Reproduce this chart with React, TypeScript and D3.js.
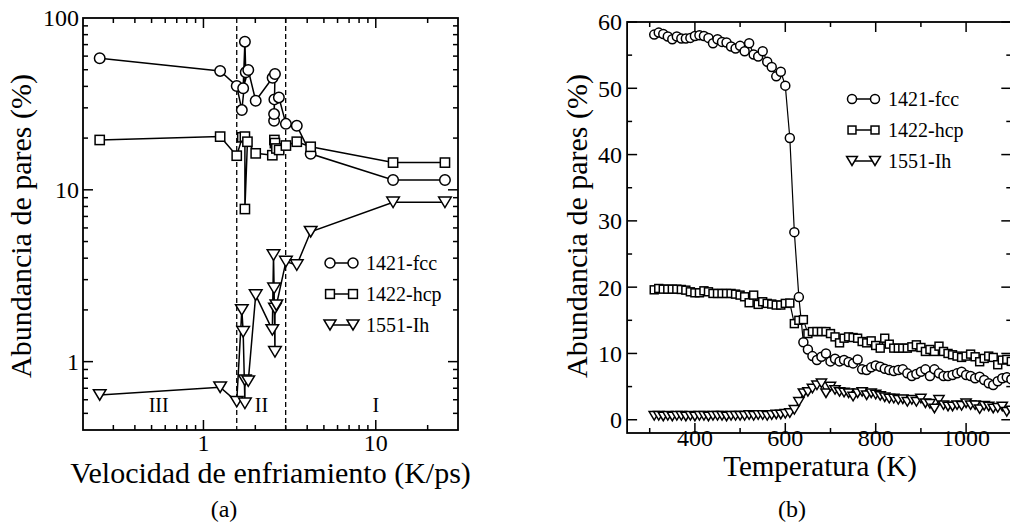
import React, { useEffect, useRef } from 'react';
import * as d3 from 'd3';

// ---------- panel (a): pair abundance vs cooling rate (log-log) ----------
const fccRate = [0.25, 1.25, 1.56, 1.67, 1.76, 1.74, 1.70, 1.82, 2.01, 2.52, 2.60, 2.57, 2.57, 2.58, 2.74, 3.01, 3.48, 4.19, 12.6, 25.2];
const fccA = [58.3, 49.2, 40.2, 29.1, 48.3, 72.8, 39.0, 49.8, 33.0, 44.9, 47.2, 25.2, 27.6, 33.6, 34.5, 24.2, 23.6, 16.2, 11.4, 11.4];

const hcpRate = [0.25, 1.25, 1.56, 1.68, 1.74, 1.74, 1.80, 2.01, 2.51, 2.58, 2.60, 2.65, 2.75, 3.01, 3.48, 4.19, 12.6, 25.2];
const hcpA = [19.5, 20.4, 15.8, 20.2, 20.4, 7.73, 19.05, 16.3, 15.9, 19.5, 18.7, 17.4, 17.05, 18.1, 19.05, 17.8, 14.4, 14.4];

const ihRate = [0.25, 1.25, 1.56, 1.67, 1.70, 1.74, 1.74, 1.82, 2.01, 2.51, 2.55, 2.57, 2.60, 2.60, 2.65, 3.01, 3.48, 4.19, 12.6, 25.2];
const ihA = [0.64, 0.71, 0.585, 2.0, 1.49, 0.572, 0.78, 0.77, 2.44, 1.53, 4.17, 2.67, 1.14, 2.04, 2.13, 3.82, 3.65, 5.70, 8.46, 8.46];

const regionLines = [1.56, 3.0];
const regionLabels = [
  { text: 'III', x: 0.55 },
  { text: 'II', x: 2.17 },
  { text: 'I', x: 10 },
];

// ---------- panel (b): pair abundance vs temperature ----------
const temps = [
  310, 320, 330, 340, 350, 360, 370, 380, 390, 400,
  410, 420, 430, 440, 450, 460, 470, 480, 490, 500,
  510, 520, 530, 540, 550, 560, 570, 580, 590, 600,
  610, 620, 630, 640, 650, 660, 670, 680, 690, 700,
  710, 720, 730, 740, 750, 760, 770, 780, 790, 800,
  810, 820, 830, 840, 850, 860, 870, 880, 890, 900,
  910, 920, 930, 940, 950, 960, 970, 980, 990, 1000,
  1010, 1020, 1030, 1040, 1050, 1060, 1070, 1080, 1090, 1100,
];

const fccT = [
  58.1, 58.4, 58.2, 57.8, 57.4, 57.8, 57.5, 57.5, 57.6, 57.9,
  58.0, 57.9, 57.6, 56.8, 57.4, 57.0, 56.9, 56.3, 56.0, 56.4,
  55.6, 56.8, 55.1, 54.8, 55.6, 54.0, 53.2, 51.8, 52.5, 50.4,
  42.5, 28.3, 18.5, 11.7, 10.6, 9.6, 9.0, 9.5, 10.0, 8.8,
  9.2, 8.8, 9.0, 8.7, 8.5, 9.1, 7.6, 7.5, 7.9, 8.2,
  8.0, 7.7, 7.5, 7.35, 7.5, 7.6, 7.0, 6.6, 6.9, 7.25,
  7.6, 6.6, 7.6, 7.0, 6.6, 6.6, 6.75, 7.0, 7.25, 6.75,
  6.6, 6.25, 6.5, 6.0, 5.5, 5.25, 5.8, 6.25, 6.4, 6.1,
];

const hcpT = [
  19.6, 19.8, 19.7, 19.7, 19.7, 19.7, 19.65, 19.55, 19.3, 19.15,
  19.15, 19.45, 19.3, 19.05, 19.05, 19.05, 19.05, 19.05, 18.95, 18.8,
  18.55, 17.65, 18.8, 17.4, 17.8, 17.55, 17.45, 17.3, 17.3, 17.55,
  17.6, 14.5, 15.0, 15.1, 13.0, 13.3, 13.3, 13.3, 13.3, 13.0,
  12.5, 11.6, 12.3, 12.5, 12.4, 12.3, 11.8, 11.6, 11.9, 11.2,
  10.8, 12.3, 11.4, 10.8, 10.8, 10.8, 10.8, 11.0, 11.3, 10.9,
  10.3, 10.6, 10.3, 11.1, 10.3, 10.0, 9.8, 9.6, 9.4, 9.6,
  9.9, 9.5, 8.75, 9.25, 9.6, 9.4, 8.3, 9.0, 9.1, 8.8,
];

const ihT = [
  0.6, 0.6, 0.5, 0.6, 0.5, 0.6, 0.6, 0.5, 0.6, 0.5,
  0.6, 0.6, 0.5, 0.6, 0.6, 0.6, 0.5, 0.6, 0.6, 0.6,
  0.6, 0.7, 0.6, 0.7, 0.7, 0.6, 0.7, 0.8, 0.8, 0.9,
  1.0, 1.5, 2.7, 4.0, 4.2, 4.7, 5.2, 5.5, 4.0, 5.0,
  4.5, 4.2, 4.1, 4.0, 3.5, 4.0, 4.2, 3.7, 4.0, 3.8,
  3.6, 3.4, 3.2, 3.2, 3.0, 3.1, 2.7, 3.0, 2.7, 3.2,
  2.5, 2.4, 1.7, 3.0, 2.2, 2.0, 2.0, 2.2, 2.1, 2.5,
  2.2, 2.2, 1.6, 2.1, 2.0, 1.7, 1.8, 2.0, 1.2, 1.4,
];

const legendNames = ['1421-fcc', '1422-hcp', '1551-Ih'];
const shapes = ['circle', 'square', 'triangle'];

const FONT = "'Liberation Serif', 'DejaVu Serif', serif";

const drawMarker = (g, shape, cx, cy, s) => {
  if (shape === 'circle') {
    g.append('circle').attr('cx', cx).attr('cy', cy).attr('r', s / 2)
      .attr('fill', 'white').attr('stroke', 'black').attr('stroke-width', 1.5);
  } else if (shape === 'square') {
    const h = s * 0.88;
    g.append('rect').attr('x', cx - h / 2).attr('y', cy - h / 2).attr('width', h).attr('height', h)
      .attr('fill', 'white').attr('stroke', 'black').attr('stroke-width', 1.5);
  } else {
    const w = s * 1.2, h = s;
    g.append('path')
      .attr('d', `M${cx - w / 2},${cy - h / 2}L${cx + w / 2},${cy - h / 2}L${cx},${cy + h / 2}Z`)
      .attr('fill', 'white').attr('stroke', 'black').attr('stroke-width', 1.5)
      .attr('stroke-linejoin', 'miter');
  }
};

const drawTicks = (g, sx, sy, xMajor, xMinor, yMajor, yMinor, [x0, x1], [y0, y1]) => {
  const t = g.append('g').attr('stroke', 'black').attr('stroke-width', 1.5);
  const xt = (v, len) => {
    const x = sx(v);
    t.append('line').attr('x1', x).attr('x2', x).attr('y1', y1).attr('y2', y1 - len);
    t.append('line').attr('x1', x).attr('x2', x).attr('y1', y0).attr('y2', y0 + len);
  };
  const yt = (v, len) => {
    const y = sy(v);
    t.append('line').attr('x1', x0).attr('x2', x0 + len).attr('y1', y).attr('y2', y);
    t.append('line').attr('x1', x1).attr('x2', x1 - len).attr('y1', y).attr('y2', y);
  };
  xMajor.forEach(v => xt(v, 10));
  xMinor.forEach(v => xt(v, 5));
  yMajor.forEach(v => yt(v, 10));
  yMinor.forEach(v => yt(v, 5));
};

const drawLegend = (g, x, y0, dy, size) => {
  legendNames.forEach((name, i) => {
    const y = y0 + i * dy;
    g.append('line').attr('x1', x).attr('x2', x + 23).attr('y1', y).attr('y2', y)
      .attr('stroke', 'black').attr('stroke-width', 1.5);
    drawMarker(g, shapes[i], x, y, size);
    drawMarker(g, shapes[i], x + 23, y, size);
    g.append('text').attr('x', x + 36).attr('y', y + 7)
      .style('font-family', FONT).style('font-size', '20px').text(name);
  });
};

const App = () => {
  const svgRef = useRef(null);

  useEffect(() => {
    const svg = d3.select(svgRef.current);
    svg.selectAll('*').remove();

    // ================= panel (a) =================
    const ax = [83, 458], ay = [18, 430];
    const xL = d3.scaleLog().domain([0.2, 30]).range(ax);
    const yL = d3.scaleLog().domain([0.4, 100]).range([ay[1], ay[0]]);
    const ga = svg.append('g');

    // region separators
    regionLines.forEach(v => {
      ga.append('line').attr('x1', xL(v)).attr('x2', xL(v)).attr('y1', ay[0]).attr('y2', ay[1])
        .attr('stroke', 'black').attr('stroke-width', 1.3).attr('stroke-dasharray', '5,3');
    });
    regionLabels.forEach(r => {
      ga.append('text').attr('x', xL(r.x)).attr('y', 412).attr('text-anchor', 'middle')
        .style('font-family', FONT).style('font-size', '20px').text(r.text);
    });

    const lineL = d3.line().x(d => xL(d[0])).y(d => yL(d[1]));
    const seriesA = [
      [fccRate, fccA, 'circle', 10.5],
      [hcpRate, hcpA, 'square', 10.5],
      [ihRate, ihA, 'triangle', 10.5],
    ];
    seriesA.forEach(([xs, ys]) => {
      const pts = xs.map((x, i) => [x, ys[i]]);
      ga.append('path').datum(pts).attr('d', lineL)
        .attr('fill', 'none').attr('stroke', 'black').attr('stroke-width', 1.5);
    });
    seriesA.forEach(([xs, ys, shape, s]) => {
      xs.forEach((x, i) => drawMarker(ga, shape, xL(x), yL(ys[i]), s));
    });

    ga.append('rect').attr('x', ax[0]).attr('y', ay[0]).attr('width', ax[1] - ax[0]).attr('height', ay[1] - ay[0])
      .attr('fill', 'none').attr('stroke', 'black').attr('stroke-width', 1.8);

    const xMinorA = [0.3, 0.4, 0.5, 0.6, 0.7, 0.8, 0.9, 2, 3, 4, 5, 6, 7, 8, 9, 20];
    const yMinorA = [0.5, 0.6, 0.7, 0.8, 0.9, 2, 3, 4, 5, 6, 7, 8, 9, 20, 30, 40, 50, 60, 70, 80, 90];
    drawTicks(ga, xL, yL, [1, 10], xMinorA, [1, 10], yMinorA, ax, ay);

    [1, 10].forEach(v => {
      ga.append('text').attr('x', xL(v)).attr('y', 451).attr('text-anchor', 'middle')
        .style('font-family', FONT).style('font-size', '24px').text(v);
    });
    [1, 10, 100].forEach(v => {
      ga.append('text').attr('x', 79).attr('y', yL(v)).attr('dy', '0.35em').attr('text-anchor', 'end')
        .style('font-family', FONT).style('font-size', '24px').text(v);
    });

    ga.append('text').attr('x', (ax[0] + ax[1]) / 2).attr('y', 483).attr('text-anchor', 'middle')
      .style('font-family', FONT).style('font-size', '30px').text('Velocidad de enfriamiento (K/ps)');
    ga.append('text').attr('transform', 'translate(31,226) rotate(-90)').attr('text-anchor', 'middle')
      .style('font-family', FONT).style('font-size', '30px').text('Abundancia de pares (%)');
    ga.append('text').attr('x', 224).attr('y', 517).attr('text-anchor', 'middle')
      .style('font-family', FONT).style('font-size', '24px').text('(a)');

    drawLegend(ga, 330, 263, 31, 10);

    // ================= panel (b) =================
    const bx = [627.1, 1011.3], by = [22, 433];
    const xR = d3.scaleLinear().domain([250, 1100]).range(bx);
    const yR = d3.scaleLinear().domain([-2, 60]).range([by[1], by[0]]);
    const gb = svg.append('g');

    const lineR = d3.line().x(d => xR(d[0])).y(d => yR(d[1]));
    const seriesB = [
      [fccT, 'circle', 9],
      [hcpT, 'square', 9],
      [ihT, 'triangle', 8.5],
    ];
    seriesB.forEach(([ys]) => {
      const pts = temps.map((t, i) => [t, ys[i]]);
      gb.append('path').datum(pts).attr('d', lineR)
        .attr('fill', 'none').attr('stroke', 'black').attr('stroke-width', 1.2);
    });
    seriesB.forEach(([ys, shape, s]) => {
      temps.forEach((t, i) => drawMarker(gb, shape, xR(t), yR(ys[i]), s));
    });

    gb.append('rect').attr('x', bx[0]).attr('y', by[0]).attr('width', bx[1] - bx[0]).attr('height', by[1] - by[0])
      .attr('fill', 'none').attr('stroke', 'black').attr('stroke-width', 1.8);

    drawTicks(gb, xR, yR, [400, 600, 800, 1000], [300, 500, 700, 900],
      [0, 10, 20, 30, 40, 50, 60], [5, 15, 25, 35, 45, 55], bx, by);

    [400, 600, 800, 1000].forEach(v => {
      gb.append('text').attr('x', xR(v)).attr('y', 446).attr('text-anchor', 'middle')
        .style('font-family', FONT).style('font-size', '24px').text(v);
    });
    [0, 10, 20, 30, 40, 50, 60].forEach(v => {
      gb.append('text').attr('x', 622).attr('y', yR(v)).attr('dy', '0.35em').attr('text-anchor', 'end')
        .style('font-family', FONT).style('font-size', '24px').text(v);
    });

    gb.append('text').attr('x', 820).attr('y', 476).attr('text-anchor', 'middle')
      .style('font-family', FONT).style('font-size', '29px').text('Temperatura (K)');
    gb.append('text').attr('transform', 'translate(587,226) rotate(-90)').attr('text-anchor', 'middle')
      .style('font-family', FONT).style('font-size', '30px').text('Abundancia de pares (%)');
    gb.append('text').attr('x', 792).attr('y', 517).attr('text-anchor', 'middle')
      .style('font-family', FONT).style('font-size', '24px').text('(b)');

    drawLegend(gb, 852, 99, 31, 9);
  }, []);

  return (
    <svg ref={svgRef} width={1010} height={527}
      style={{ position: 'absolute', left: 0, top: 0, background: 'white' }} />
  );
};

export default App;
